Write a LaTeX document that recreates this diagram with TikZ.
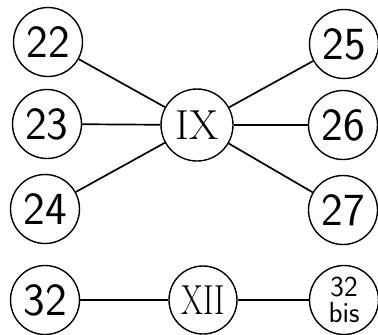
\documentclass[tikz,border=0pt]{standalone}
\usepackage{fontspec}
\begin{document}
\begin{tikzpicture}[x=1pt,y=-1pt,
  num/.style={circle,draw,line width=1.4pt,minimum size=69pt,inner sep=0pt,
    font=\fontsize{46}{46}\selectfont\sffamily},
  rom/.style={circle,draw,line width=1.4pt,minimum size=72pt,inner sep=0pt,
    font=\fontsize{42}{42}\selectfont\rmfamily},
  small/.style={inner sep=0pt,font=\fontsize{29}{29}\selectfont\sffamily},
  link/.style={line width=1.7pt}]
\useasboundingbox (0,0) rectangle (378,335);
\node[num] (n22) at (48,42) {22};
\node[num] (n23) at (47,124) {23};
\node[num] (n24) at (45,209) {24};
\node[num] (n32) at (45,300) {32};
\node[rom] (ix) at (197,125) {IX};
\node[rom,minimum size=68pt] (xii) at (203,300) {\scalebox{0.75}[1]{XII}};
\node[num] (n25) at (344,44) {25};
\node[num] (n26) at (343,125) {26};
\node[num] (n27) at (343,210) {27};
\node[num] (n32b) at (344,300) {};
\node[small,anchor=base] (t32) at (344,296) {32};
\node[small,anchor=base] (tbis) at (344,322) {bis};
\draw[link] (n22) -- (ix);
\draw[link] (n23) -- (ix);
\draw[link] (n24) -- (ix);
\draw[link] (n25) -- (ix);
\draw[link] (n26) -- (ix);
\draw[link] (n27) -- (ix);
\draw[link] (n32) -- (xii);
\draw[link] (xii) -- (n32b);
\end{tikzpicture}
\end{document}
